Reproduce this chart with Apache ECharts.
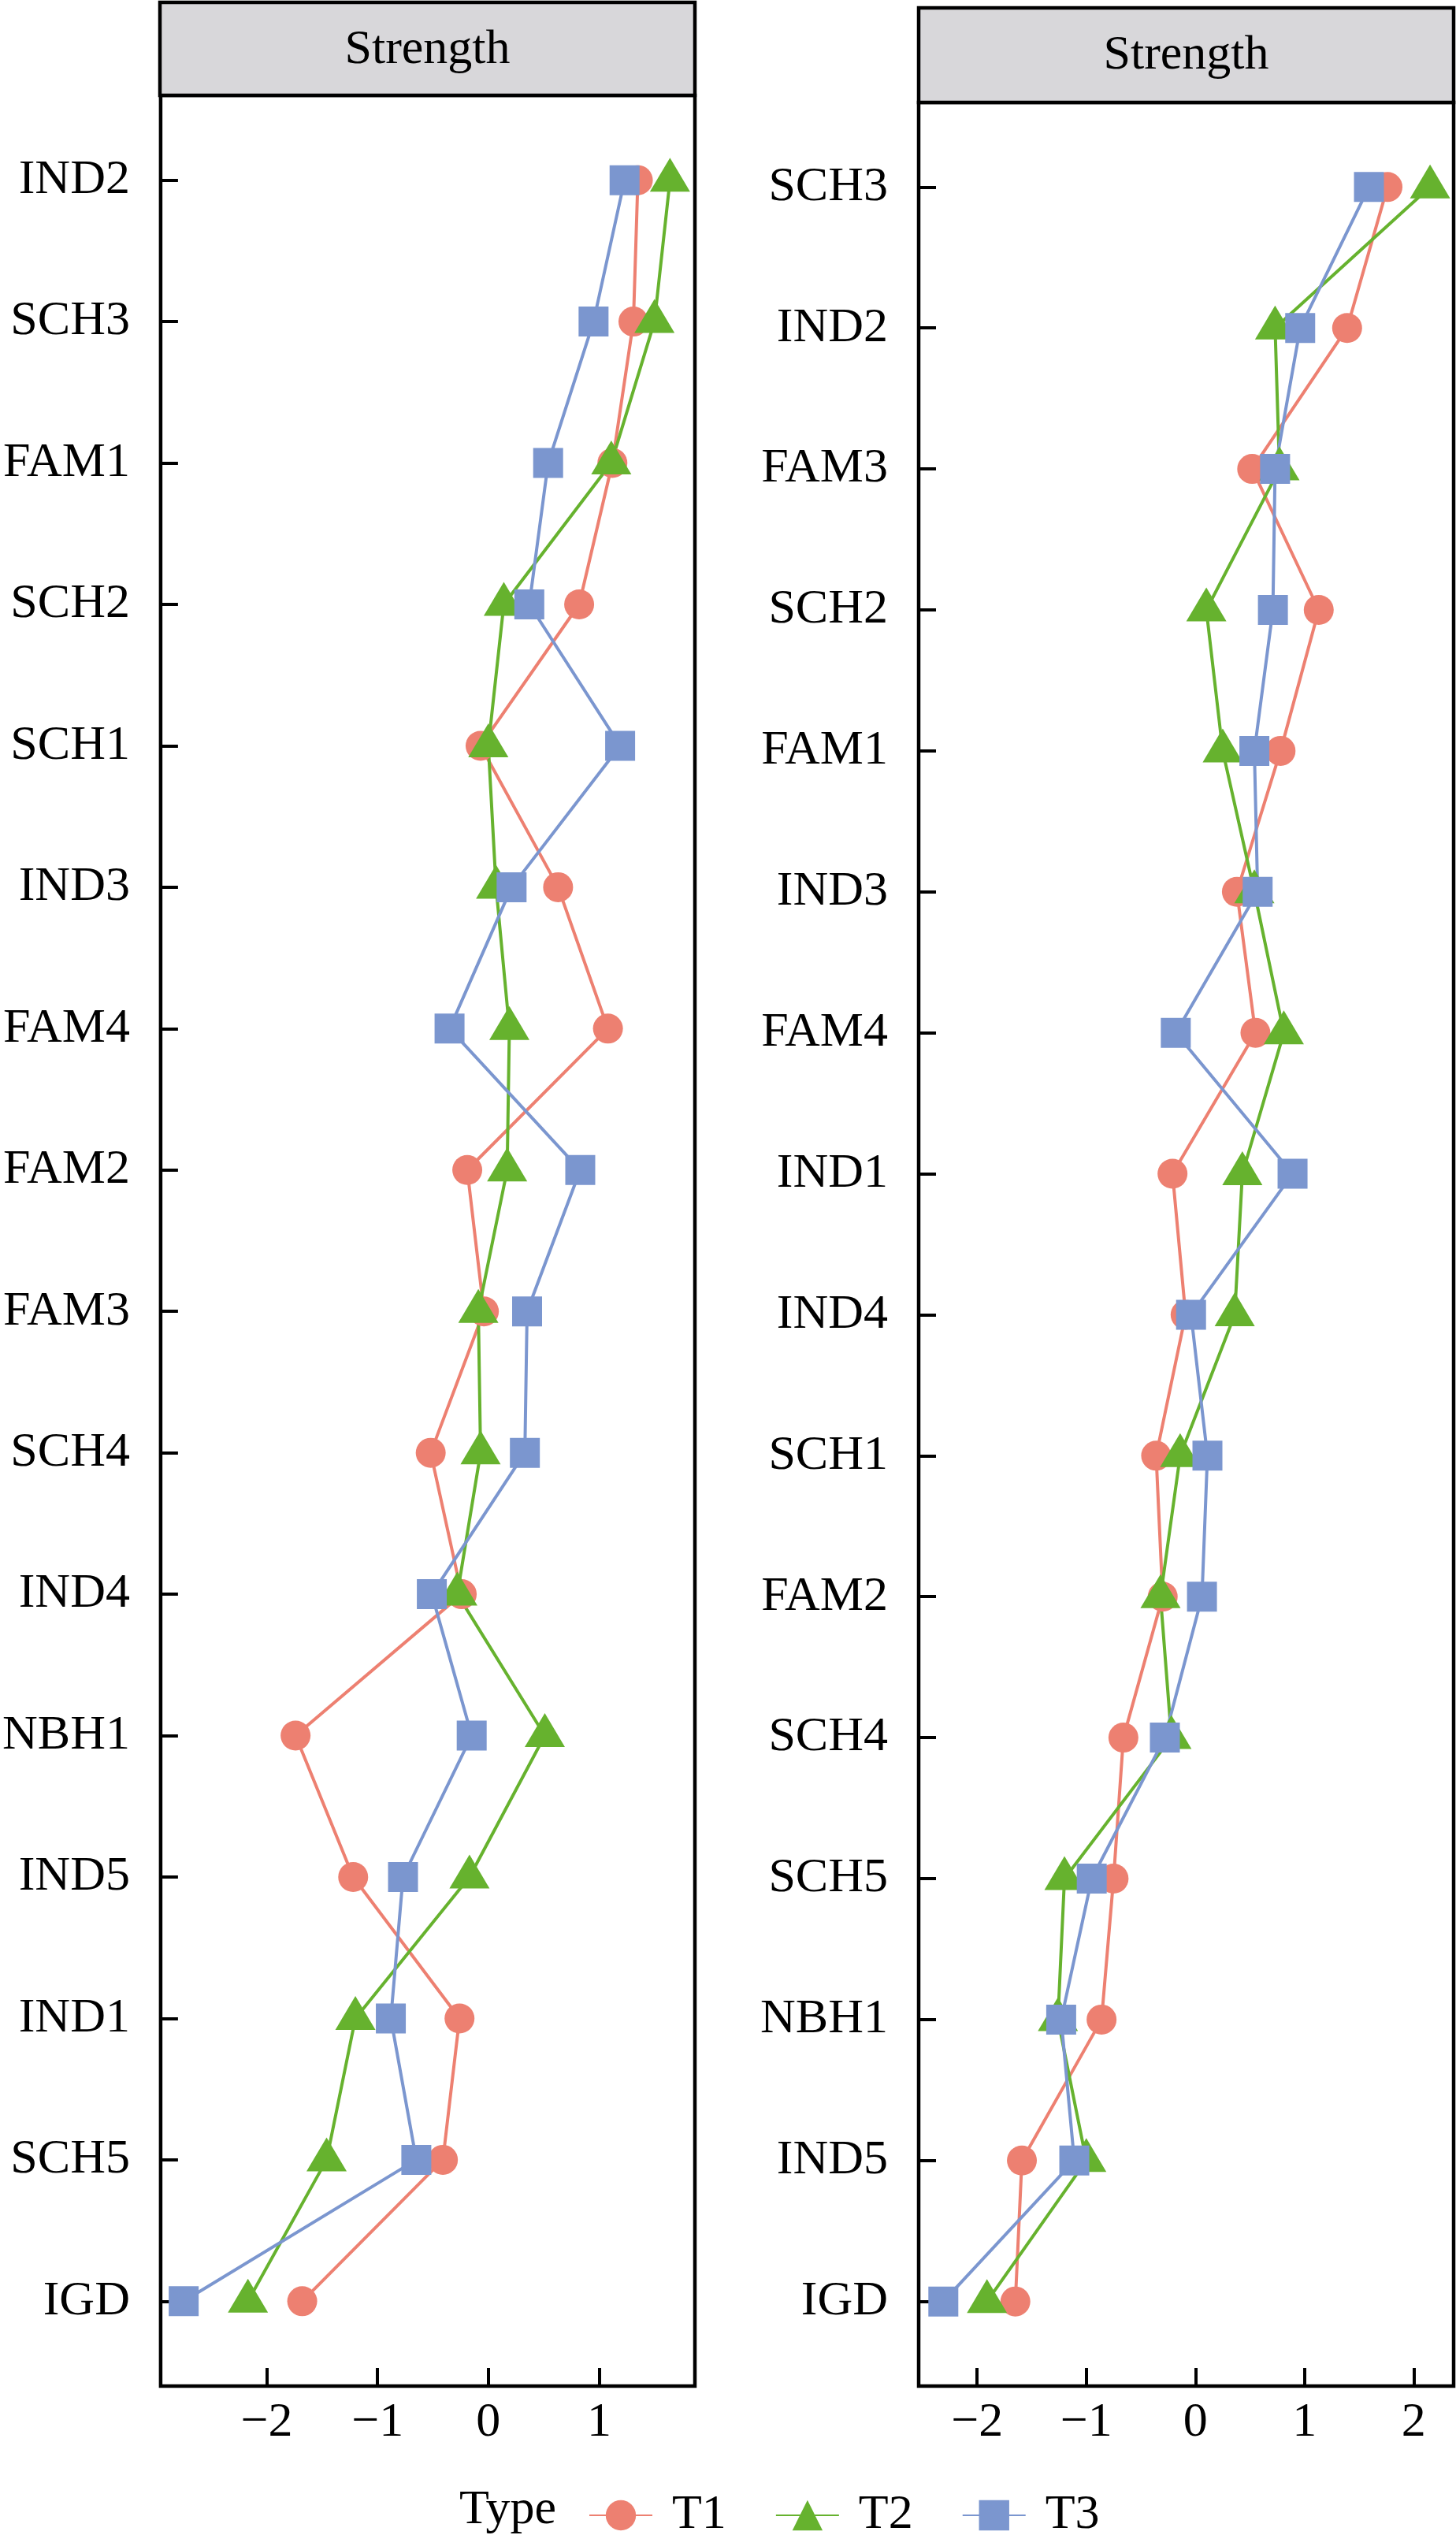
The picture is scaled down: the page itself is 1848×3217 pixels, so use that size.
<!DOCTYPE html>
<html>
<head>
<meta charset="utf-8">
<title>Strength</title>
<script src="https://cdn.jsdelivr.net/npm/echarts@6.0.0/dist/echarts.min.js"></script>
<style>
    html, body { margin: 0; padding: 0; background: #fff; }
    #chart { width: 1848px; height: 3217px; }
</style>
</head>
<body>
<div id="chart"></div>
<script>
// 左图类目（自上而下）
var leftCats = ['IND2', 'SCH3', 'FAM1', 'SCH2', 'SCH1', 'IND3', 'FAM4', 'FAM2',
    'FAM3', 'SCH4', 'IND4', 'NBH1', 'IND5', 'IND1', 'SCH5', 'IGD'];
var leftT1 = [1.35, 1.31, 1.12, 0.82, -0.07, 0.63, 1.08, -0.19, -0.04, -0.52, -0.24, -1.74, -1.22, -0.26, -0.41, -1.68];
var leftT2 = [1.64, 1.50, 1.11, 0.14, 0.00, 0.07, 0.19, 0.17, -0.09, -0.07, -0.28, 0.51, -0.17, -1.20, -1.46, -2.17];
var leftT3 = [1.23, 0.95, 0.54, 0.37, 1.19, 0.21, -0.35, 0.83, 0.35, 0.33, -0.51, -0.15, -0.77, -0.88, -0.65, -2.75];

// 右图类目（自上而下）
var rightCats = ['SCH3', 'IND2', 'FAM3', 'SCH2', 'FAM1', 'IND3', 'FAM4', 'IND1',
    'IND4', 'SCH1', 'FAM2', 'SCH4', 'SCH5', 'NBH1', 'IND5', 'IGD'];
var rightT1 = [1.76, 1.39, 0.52, 1.13, 0.78, 0.38, 0.55, -0.21, -0.09, -0.36, -0.30, -0.66, -0.75, -0.86, -1.59, -1.65];
var rightT2 = [2.15, 0.73, 0.77, 0.10, 0.25, 0.54, 0.81, 0.43, 0.36, -0.14, -0.32, -0.22, -1.20, -1.26, -1.00, -1.91];
var rightT3 = [1.59, 0.96, 0.73, 0.71, 0.54, 0.57, -0.18, 0.89, -0.04, 0.11, 0.06, -0.28, -0.95, -1.23, -1.11, -2.31];

// 刻度
var leftTicks = [-2, -1, 0, 1];
var rightTicks = [-2, -1, 0, 1, 2];
var typeNames = ['T1', 'T2', 'T3'];

var colors = ['#ED8071', '#66B22E', '#7B96CF'];
var symbols = ['circle', 'triangle', 'rect'];
var symbolSizes = [38, [51, 43], 38];
var symbolOffsets = [[0, 0], [0, -7], [0, 0]];
var font = 'Liberation Serif';

function toPairs(vals) {
    var out = [];
    for (var i = 0; i < vals.length; i++) {
        out.push([vals[i], i]);
    }
    return out;
}

function makeX(gridIndex, min, max, ticks) {
    return {
        type: 'value',
        gridIndex: gridIndex,
        position: 'bottom',
        min: min,
        max: max,
        axisLine: { show: false, onZero: false },
        splitLine: { show: false },
        axisTick: {
            show: true,
            inside: true,
            length: 23,
            customValues: ticks,
            lineStyle: { color: '#000', width: 4 }
        },
        axisLabel: {
            customValues: ticks,
            margin: 16,
            color: '#000',
            fontFamily: font,
            fontSize: 62,
            formatter: function(v) {
                return v < 0 ? '\u2212' + Math.abs(v) : String(v);
            }
        }
    };
}

function makeY(gridIndex, cats) {
    var idx = [];
    for (var i = 0; i < cats.length; i++) idx.push(i);
    return {
        type: 'value',
        gridIndex: gridIndex,
        position: 'left',
        inverse: true,
        min: -0.6,
        max: cats.length - 0.4,
        axisLine: { show: false, onZero: false },
        splitLine: { show: false },
        axisTick: {
            show: true,
            inside: true,
            length: 22,
            customValues: idx,
            lineStyle: { color: '#000', width: 4 }
        },
        axisLabel: {
            customValues: idx,
            margin: 39,
            color: '#000',
            fontFamily: font,
            fontSize: 62,
            padding: [8, 0, 0, 0],
            formatter: function(v) {
                return cats[Math.round(v)];
            }
        }
    };
}

var panelData = [
    [leftT1, leftT2, leftT3],
    [rightT1, rightT2, rightT3]
];

var series = [];
// 先画折线
for (var p = 0; p < 2; p++) {
    for (var k = 0; k < 3; k++) {
        series.push({
            name: typeNames[k],
            type: 'line',
            xAxisIndex: p,
            yAxisIndex: p,
            data: toPairs(panelData[p][k]),
            symbol: symbols[k],
            showSymbol: false,
            z: 2,
            lineStyle: { color: colors[k], width: 4 },
            itemStyle: { color: colors[k] }
        });
    }
}
// 再画点，T3 在最上层
for (var p2 = 0; p2 < 2; p2++) {
    for (var k2 = 0; k2 < 3; k2++) {
        series.push({
            name: typeNames[k2],
            type: 'scatter',
            xAxisIndex: p2,
            yAxisIndex: p2,
            data: toPairs(panelData[p2][k2]),
            symbol: symbols[k2],
            symbolSize: symbolSizes[k2],
            symbolOffset: symbolOffsets[k2],
            z: 3 + k2,
            itemStyle: { color: colors[k2], opacity: 1 }
        });
    }
}

var myChart = echarts.init(document.getElementById('chart'));

var option = {
    animation: false,
    backgroundColor: '#fff',
    textStyle: { fontFamily: font },
    grid: [
        { left: 203, top: 121, width: 679, height: 2907, show: true, borderColor: '#000', borderWidth: 4.5, backgroundColor: '#fff' },
        { left: 1166, top: 130, width: 679, height: 2898, show: true, borderColor: '#000', borderWidth: 4.5, backgroundColor: '#fff' }
    ],
    xAxis: [makeX(0, -2.958, 1.865, leftTicks), makeX(1, -2.536, 2.366, rightTicks)],
    yAxis: [makeY(0, leftCats), makeY(1, rightCats)],
    legend: {
        data: typeNames,
        left: 742,
        top: 3156,
        itemWidth: 80,
        itemHeight: 48,
        itemGap: 62,
        textStyle: {
            color: '#000',
            fontFamily: font,
            fontSize: 62,
            padding: [0, 0, 0, 20]
        }
    },
    graphic: [
        // 分面标题条
        { type: 'rect', shape: { x: 203, y: 3, width: 679, height: 118 }, style: { fill: '#D8D7DA', stroke: '#000', lineWidth: 4.5 } },
        { type: 'text', x: 542.5, y: 64, style: { text: 'Strength', font: '62px "Liberation Serif"', fill: '#000', textAlign: 'center', verticalAlign: 'middle' } },
        { type: 'rect', shape: { x: 1166, y: 10, width: 679, height: 120 }, style: { fill: '#D8D7DA', stroke: '#000', lineWidth: 4.5 } },
        { type: 'text', x: 1505.5, y: 71, style: { text: 'Strength', font: '62px "Liberation Serif"', fill: '#000', textAlign: 'center', verticalAlign: 'middle' } },
        // 图例标题
        { type: 'text', x: 583, y: 3186, style: { text: 'Type', font: '62px "Liberation Serif"', fill: '#000', textAlign: 'left', verticalAlign: 'middle' } }
    ],
    series: series
};

myChart.setOption(option);
</script>
</body>
</html>
